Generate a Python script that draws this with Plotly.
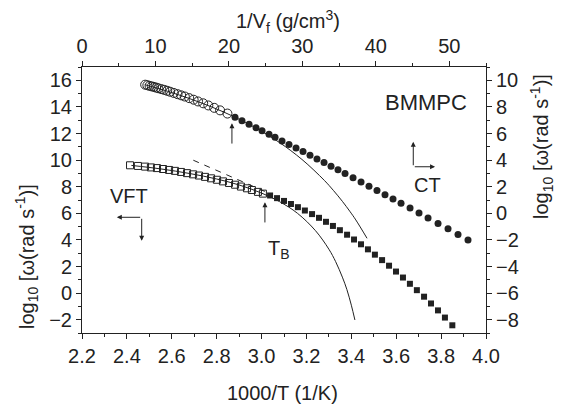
import plotly.graph_objects as go

# ---------------- data ----------------
# CT representation (top axis: 1/Vf, right axis)
ct_open_x = [8.6, 8.9, 9.2, 9.5, 9.8, 10.1, 10.4, 10.8, 11.2, 11.6, 12.0, 12.5, 13.0, 13.5,
             14.0, 14.6, 15.2, 15.8, 16.5, 17.2, 18.0, 18.8, 19.8]
ct_open_y = [9.67, 9.63, 9.58, 9.54, 9.50, 9.45, 9.40, 9.34, 9.28, 9.21, 9.14, 9.05, 8.96, 8.87,
             8.78, 8.66, 8.54, 8.41, 8.27, 8.11, 7.93, 7.74, 7.50]
ct_fill_x = [20.83, 21.78, 22.74, 23.69, 24.51, 25.46, 26.28, 27.23, 28.18, 29.14, 30.09, 31.04,
             31.99, 32.95, 33.90, 34.85, 35.81, 36.90, 37.99, 39.07, 40.16, 41.25, 42.34, 43.43,
             44.66, 45.88, 47.11, 48.47, 49.83, 51.19, 52.55]
ct_fill_y = [7.23, 6.96, 6.70, 6.44, 6.21, 5.94, 5.71, 5.44, 5.18, 4.91, 4.64, 4.36, 4.09, 3.82,
             3.54, 3.27, 2.99, 2.68, 2.36, 2.04, 1.72, 1.40, 1.08, 0.75, 0.39, 0.02, -0.35, -0.76,
             -1.17, -1.59, -2.00]

# VFT representation (bottom axis: 1000/T, left axis)
vft_open_x = [2.414, 2.449, 2.481, 2.507, 2.534, 2.561, 2.588, 2.614, 2.641, 2.668, 2.695, 2.721,
              2.748, 2.775, 2.801, 2.828, 2.855, 2.882, 2.908, 2.935, 2.957, 2.984, 3.006]
vft_open_y = [9.61, 9.56, 9.51, 9.45, 9.40, 9.33, 9.26, 9.19, 9.11, 9.02, 8.93, 8.84,
              8.74, 8.63, 8.52, 8.40, 8.28, 8.15, 8.01, 7.88, 7.75, 7.61, 7.48]
vft_fill_x = [3.038, 3.069, 3.100, 3.131, 3.162, 3.193, 3.225, 3.256, 3.287, 3.318, 3.349, 3.381,
              3.412, 3.443, 3.474, 3.505, 3.537, 3.568, 3.599, 3.630, 3.661, 3.692, 3.724, 3.755,
              3.786, 3.817, 3.850]
vft_fill_y = [7.34, 7.14, 6.93, 6.70, 6.46, 6.21, 5.94, 5.66, 5.36, 5.05, 4.73, 4.39,
              4.03, 3.67, 3.29, 2.89, 2.48, 2.06, 1.62, 1.17, 0.70, 0.22, -0.27, -0.78,
              -1.30, -1.84, -2.42]

# fit curves (bottom / left axis units)
ctfit_x = [2.48, 2.58, 2.68, 2.78, 2.88, 2.98, 3.08, 3.18, 3.28, 3.32, 3.36, 3.395, 3.42, 3.47]
ctfit_y = [15.67, 15.18, 14.62, 13.98, 13.24, 12.37, 11.32, 10.05, 8.47, 7.72, 6.90, 6.11, 5.50, 4.12]
vftfit_x = [2.42, 2.55, 2.68, 2.80, 2.90, 3.00, 3.08, 3.16, 3.24, 3.30, 3.33, 3.36, 3.38, 3.40, 3.416]
vftfit_y = [9.60, 9.34, 8.99, 8.58, 8.13, 7.52, 6.88, 6.00, 4.70, 3.30, 2.37, 1.20, 0.28, -0.91, -2.02]
dash_x = [2.696, 3.015]
dash_y = [9.99, 7.64]

# tick labels
x_ticks = [2.2, 2.4, 2.6, 2.8, 3.0, 3.2, 3.4, 3.6, 3.8, 4.0]
y_ticks = [-2, 0, 2, 4, 6, 8, 10, 12, 14, 16]
x2_ticks = [0, 10, 20, 30, 40, 50]
y2_ticks = [-8, -6, -4, -2, 0, 2, 4, 6, 8, 10]

INK = '#222222'
FONT = 'Arial, Liberation Sans, Helvetica, sans-serif'

fig = go.Figure()

fig.add_trace(go.Scatter(x=ctfit_x, y=ctfit_y, mode='lines', line=dict(color=INK, width=1, shape='spline'),
                         xaxis='x', yaxis='y'))
fig.add_trace(go.Scatter(x=vftfit_x, y=vftfit_y, mode='lines', line=dict(color=INK, width=1, shape='spline'),
                         xaxis='x', yaxis='y'))
fig.add_trace(go.Scatter(x=dash_x, y=dash_y, mode='lines', line=dict(color=INK, width=1, dash='6px,6px'),
                         xaxis='x', yaxis='y'))

fig.add_trace(go.Scatter(x=vft_open_x, y=vft_open_y, mode='markers',
                         marker=dict(symbol='square-open', size=7, color=INK, line=dict(width=1, color=INK)),
                         xaxis='x', yaxis='y'))
fig.add_trace(go.Scatter(x=vft_fill_x, y=vft_fill_y, mode='markers',
                         marker=dict(symbol='square', size=6, color=INK, line=dict(width=0)),
                         xaxis='x', yaxis='y'))
fig.add_trace(go.Scatter(x=ct_open_x, y=ct_open_y, mode='markers',
                         marker=dict(symbol='circle-open', size=9, color=INK, line=dict(width=1, color=INK)),
                         xaxis='x2', yaxis='y2'))
fig.add_trace(go.Scatter(x=ct_fill_x, y=ct_fill_y, mode='markers',
                         marker=dict(symbol='circle', size=7, color=INK, line=dict(width=0)),
                         xaxis='x2', yaxis='y2'))

common = dict(showline=True, linecolor=INK, linewidth=1, ticks='outside', ticklen=5, tickwidth=1,
              tickcolor=INK, showgrid=False, zeroline=False,
              tickfont=dict(family=FONT, size=20, color=INK))

fig.update_layout(
    width=561, height=412,
    margin=dict(l=82, r=75, t=67, b=79),
    paper_bgcolor='white', plot_bgcolor='white', showlegend=False,
    font=dict(family=FONT, size=20, color=INK),
    xaxis=dict(range=[2.2, 4.0], tickvals=x_ticks, ticktext=[f'{v:.1f}' for v in x_ticks],
               minor=dict(dtick=0.1, tick0=2.2, ticks='outside', ticklen=3, tickcolor=INK), **common),
    yaxis=dict(range=[-3, 17], tickvals=y_ticks,
               minor=dict(dtick=1, tick0=0, ticks='outside', ticklen=3, tickcolor=INK), **common),
    xaxis2=dict(range=[0, 55], tickvals=x2_ticks, overlaying='x', side='top', anchor='y',
                minor=dict(dtick=5, tick0=0, ticks='outside', ticklen=3, tickcolor=INK), **common),
    yaxis2=dict(range=[-9, 11], tickvals=y2_ticks, overlaying='y', side='right', anchor='x',
                minor=dict(dtick=1, tick0=0, ticks='outside', ticklen=3, tickcolor=INK), **common),
)

ann = []
# axis titles
ann.append(dict(text='1000/T (1/K)', xref='paper', yref='paper', x=0.4975, y=-0.226,
                showarrow=False, xanchor='center', yanchor='middle', font=dict(size=20)))
ann.append(dict(text='1/V<sub>f</sub> (g/cm<sup>3</sup>)', xref='paper', yref='paper', x=0.51, y=1.17,
                showarrow=False, xanchor='center', yanchor='middle', font=dict(size=20)))
ann.append(dict(text='log<sub>10</sub> [ω(rad s<sup>-1</sup>)]', xref='paper', yref='paper', x=-0.136, y=0.286,
                textangle=-90, showarrow=False, xanchor='center', yanchor='middle', font=dict(size=20)))
ann.append(dict(text='log<sub>10</sub> [ω(rad s<sup>-1</sup>)]', xref='paper', yref='paper', x=1.136, y=0.703,
                textangle=-90, showarrow=False, xanchor='center', yanchor='middle', font=dict(size=20)))
# labels
ann.append(dict(text='BMMPC', x=3.733, y=14.31, xref='x', yref='y', showarrow=False, font=dict(size=22)))
ann.append(dict(text='CT', x=3.741, y=8.10, xref='x', yref='y', showarrow=False, font=dict(size=20)))
ann.append(dict(text='VFT', x=2.409, y=7.30, xref='x', yref='y', showarrow=False, font=dict(size=20)))
ann.append(dict(text='T<sub>B</sub>', x=3.078, y=3.30, xref='x', yref='y', showarrow=False, font=dict(size=20)))

arrow_style = dict(xref='x', yref='y', axref='x', ayref='y', text='', showarrow=True,
                   arrowhead=2, arrowsize=1, arrowwidth=1, arrowcolor=INK)
# upper arrow (CT crossover)
ann.append(dict(x=2.868, y=12.77, ax=2.868, ay=11.13, **arrow_style))
# T_B arrow
ann.append(dict(x=3.015, y=6.83, ax=3.015, ay=5.20, **arrow_style))
# CT L-arrow (up & right)
ann.append(dict(x=3.676, y=11.38, ax=3.676, ay=9.50, **arrow_style))
ann.append(dict(x=3.773, y=9.50, ax=3.676, ay=9.50, **arrow_style))
# VFT L-arrow (left & down)
ann.append(dict(x=2.355, y=5.70, ax=2.466, ay=5.70, **arrow_style))
ann.append(dict(x=2.466, y=3.93, ax=2.466, ay=5.70, **arrow_style))

fig.update_layout(annotations=ann)

fig.write_html('out.html')
